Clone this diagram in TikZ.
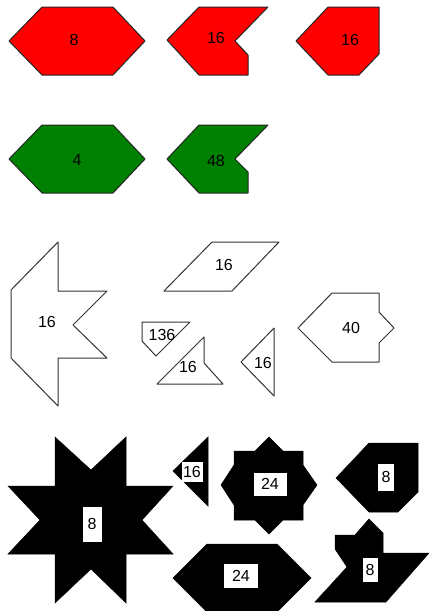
\documentclass[tikz,border=0pt]{standalone}
\usepackage{fontspec}
\setmainfont{Liberation Sans}
\usepackage{tikz}
\usetikzlibrary{positioning}
\usepackage{xcolor}
\definecolor{shapered}{RGB}{255,0,0}
\definecolor{shapegreen}{RGB}{0,128,0}

\begin{document}
\begin{tikzpicture}[x=1pt, y=-1pt,
    redpiece/.style={fill=shapered, draw=black!85, line width=1pt, line join=round},
    greenpiece/.style={fill=shapegreen, draw=black!85, line width=1pt, line join=round},
    whitepiece/.style={fill=white, draw=black!80, line width=1pt, line join=round},
    blackpiece/.style={fill=black, draw=black, line width=0.5pt},
    count/.style={font=\fontsize{16}{18}\selectfont, inner sep=0pt},
    boxcount/.style={count, fill=white}]
  \useasboundingbox (0,0) rectangle (430,611);
  % red row
  \draw[redpiece] (9,41) -- (42,7) -- (113,7) -- (145,41) -- (113,75) -- (42,75) -- cycle;
  \draw[redpiece] (167,40) -- (199,7) -- (268,7) -- (235,41) -- (248,55) -- (248,75) -- (199,75) -- cycle;
  \draw[redpiece] (296,41) -- (328,7) -- (379,7) -- (379,54) -- (359,75) -- (328,75) -- cycle;
  \node[count] (r1) at (74,40) {8};
  \node[count] (r2) at (216,38) {16};
  \node[count] (r3) at (350,40) {16};
  % green row
  \draw[greenpiece] (9,159) -- (42,125) -- (113,125) -- (145,159) -- (113,193) -- (42,193) -- cycle;
  \draw[greenpiece] (167,159) -- (199,125) -- (268,125) -- (235,159) -- (248,172) -- (248,193) -- (199,193) -- cycle;
  \node[count] (g1) at (77,160) {4};
  \node[count] (g2) at (216,161) {48};
  % white row
  \draw[whitepiece] (11,290) -- (58,242) -- (58,291) -- (107,291) -- (73,325) -- (107,358) -- (58,358) -- (58,406) -- (11,358) -- cycle;
  \draw[whitepiece] (164,291) -- (212,242) -- (279,242) -- (232,291) -- cycle;
  \draw[whitepiece] (142,322) -- (190,322) -- (156,356) -- (142,341) -- cycle;
  \draw[whitepiece] (157,384) -- (204,337) -- (204,363) -- (223,384) -- cycle;
  \draw[whitepiece] (241,362) -- (274,328) -- (274,396) -- cycle;
  \draw[whitepiece] (298,328) -- (332,293) -- (379,293) -- (379,312) -- (394,328) -- (379,343) -- (379,362) -- (332,362) -- cycle;
  \node[count] (w1) at (47,322) {16};
  \node[count] (w2) at (224,265) {16};
  \node[count] (w3) at (162,335) {136};
  \node[count] (w4) at (188,367) {16};
  \node[count] (w5) at (263,363) {16};
  \node[count] (w6) at (351,328) {40};
  % black row
  \draw[blackpiece] (55,437) -- (91,470) -- (126,437) -- (126,486) -- (173,486) -- (142,520) -- (173,554) -- (126,554) -- (126,603) -- (91,569) -- (55,603) -- (55,554) -- (8,554) -- (40,520) -- (8,486) -- (55,486) -- cycle;
  \draw[blackpiece] (173,471) -- (208,437) -- (208,506) -- cycle;
  \draw[blackpiece] (269,437) -- (283,451) -- (303,451) -- (303,465) -- (317,485) -- (303,505) -- (303,520) -- (283,520) -- (269,534) -- (255,520) -- (234,520) -- (234,505) -- (221,485) -- (234,465) -- (234,451) -- (255,451) -- cycle;
  \draw[blackpiece] (336,478) -- (369,443) -- (418,443) -- (418,492) -- (398,512) -- (369,512) -- cycle;
  \draw[blackpiece] (173,578) -- (207,544) -- (277,544) -- (311,578) -- (277,612) -- (207,612) -- cycle;
  \draw[blackpiece] (315,602) -- (347,567) -- (335,549) -- (335,535) -- (355,535) -- (369,519) -- (383,533) -- (383,553) -- (429,553) -- (386,602) -- cycle;
  \node[boxcount, minimum width=19pt, minimum height=35pt] (b1) at (92,524) {8};
  \node[boxcount, minimum width=21pt, minimum height=20pt] (b2) at (192,472) {16};
  \node[boxcount, minimum width=33pt, minimum height=23pt] (b3) at (270,484) {24};
  \node[boxcount, minimum width=16pt, minimum height=27pt] (b4) at (386,477) {8};
  \node[boxcount, minimum width=34pt, minimum height=24pt] (b5) at (241,576) {24};
  \node[boxcount, minimum width=15pt, minimum height=24pt] (b6) at (370,570) {8};
\end{tikzpicture}
\end{document}
